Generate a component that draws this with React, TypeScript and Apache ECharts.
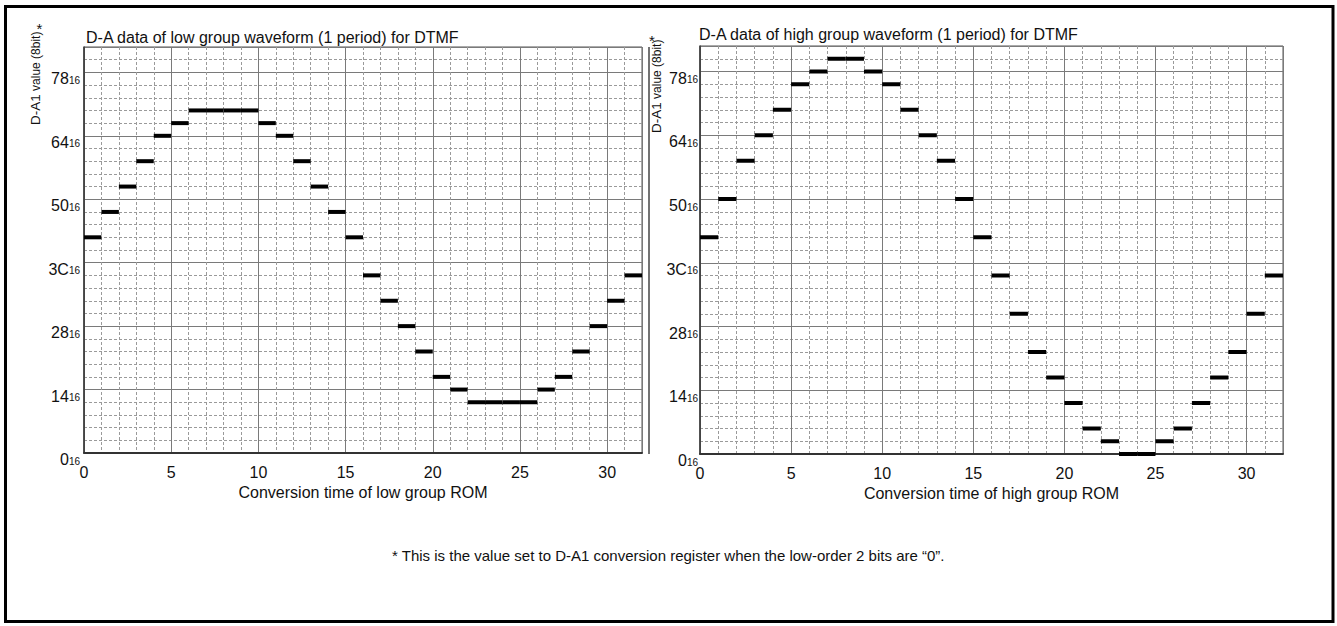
import React, { useEffect, useRef } from "react";
import * as echarts from "echarts";

// ---- data (in hex) ----
const lowGroupValues = [
  0x44, 0x4c, 0x54, 0x5c, 0x64, 0x68, 0x6c, 0x6c, 0x6c, 0x6c, 0x68, 0x64, 0x5c, 0x54, 0x4c, 0x44,
  0x38, 0x30, 0x28, 0x20, 0x18, 0x14, 0x10, 0x10, 0x10, 0x10, 0x14, 0x18, 0x20, 0x28, 0x30, 0x38,
];
const highGroupValues = [
  0x44, 0x50, 0x5c, 0x64, 0x6c, 0x74, 0x78, 0x7c, 0x7c, 0x78, 0x74, 0x6c, 0x64, 0x5c, 0x50, 0x44,
  0x38, 0x2c, 0x20, 0x18, 0x10, 0x08, 0x04, 0x00, 0x00, 0x04, 0x08, 0x10, 0x18, 0x20, 0x2c, 0x38,
];
const yTickLabels = ["0", "14", "28", "3C", "50", "64", "78"];
const chartTitles = [
  "D-A data of low group waveform (1 period) for DTMF",
  "D-A data of high group waveform (1 period) for DTMF",
];
const xAxisNames = ["Conversion time of low group ROM", "Conversion time of high group ROM"];
const footnote =
  "* This is the value set to D-A1 conversion register when the low-order 2 bits are \u201c0\u201d.";

const FONT = '"Liberation Sans", Arial, Helvetica, sans-serif';
const TXT = "#111";

const grids = [
  { left: 84, top: 47, width: 558, height: 406 },
  { left: 700, top: 46, width: 583, height: 408 },
];

function minorX(g: number) {
  return {
    type: "value", gridIndex: g, min: 0, max: 32, interval: 1, position: "bottom",
    axisLine: { show: false }, axisTick: { show: false }, axisLabel: { show: false },
    splitLine: { show: true, showMinLine: false, showMaxLine: false, lineStyle: { color: "#9a9a9a", width: 1, type: [3, 2] } },
  };
}
function majorX(g: number) {
  return {
    type: "value", gridIndex: g, min: 0, max: 32, interval: 5, position: "bottom",
    axisLine: { show: true, onZero: false, lineStyle: { color: "#333", width: 2 } },
    axisTick: { show: false },
    axisLabel: { show: true, showMaxLabel: false, margin: 11, fontSize: 16, color: TXT, fontFamily: FONT },
    splitLine: { show: true, lineStyle: { color: "#7a7a7a", width: 1 } },
    name: xAxisNames[g], nameLocation: "middle", nameGap: 31,
    nameTextStyle: { fontSize: 16, color: TXT, fontFamily: FONT },
  };
}
function minorY(g: number) {
  return {
    type: "value", gridIndex: g, min: 0, max: 128, interval: 4, position: "left",
    axisLine: { show: false }, axisTick: { show: false }, axisLabel: { show: false },
    splitLine: { show: true, showMinLine: false, showMaxLine: false, lineStyle: { color: "#9a9a9a", width: 1, type: [3, 2] } },
  };
}
function majorY(g: number) {
  return {
    type: "value", gridIndex: g, min: 0, max: 128, interval: 20, position: "left",
    axisLine: { show: true, onZero: false, lineStyle: { color: "#333", width: 1.5 } },
    axisTick: { show: false },
    axisLabel: {
      show: true, showMaxLabel: false, margin: g === 0 ? 4 : 2, verticalAlign: "top",
      formatter: (v: number) => `{m|${yTickLabels[Math.round(v / 20)] ?? ""}}{s|16}`,
      rich: {
        m: { fontSize: 16, lineHeight: 13, color: TXT, fontFamily: FONT },
        s: { fontSize: 10, lineHeight: 9, verticalAlign: "bottom", color: TXT, fontFamily: FONT },
      },
    },
    splitLine: { show: true, lineStyle: { color: "#7a7a7a", width: 1 } },
  };
}

function stepSeries(values: number[], axisIndex: number) {
  return {
    type: "custom",
    xAxisIndex: axisIndex,
    yAxisIndex: axisIndex,
    data: values.map((v, i) => [i, v]),
    renderItem: (params: any, api: any) => {
      const i = api.value(0);
      const v = api.value(1);
      const p0 = api.coord([i, v]);
      const p1 = api.coord([i + 1, v]);
      return {
        type: "rect",
        shape: { x: p0[0], y: p0[1] - 2, width: p1[0] - p0[0], height: 4 },
        style: { fill: "#000" },
      };
    },
    z: 10,
  };
}

function yName(x: number, yBottom: number) {
  return {
    type: "text", x, y: yBottom, rotation: Math.PI / 2,
    style: {
      text: "{a|D-A1}{b| value (8bit)}",
      align: "left", verticalAlign: "middle", fill: TXT, fontFamily: FONT,
      rich: {
        a: { fontSize: 13.5, lineHeight: 14, verticalAlign: "bottom", fill: TXT, fontFamily: FONT },
        b: { fontSize: 12, lineHeight: 13, verticalAlign: "bottom", fill: TXT, fontFamily: FONT },
      },
    },
  };
}

export default function App() {
  const ref = useRef<HTMLDivElement>(null);
  useEffect(() => {
    if (!ref.current) return;
    const chart = echarts.init(ref.current, null, { renderer: "svg", width: 1337, height: 626 });
    const option: any = {
      animation: false,
      backgroundColor: "#fff",
      textStyle: { fontFamily: FONT },
      title: [
        { text: chartTitles[0], left: 86, top: 29, padding: 0, textStyle: { fontSize: 16, fontWeight: "normal", color: TXT, fontFamily: FONT } },
        { text: chartTitles[1], left: 699, top: 26, padding: 0, textStyle: { fontSize: 16, fontWeight: "normal", color: TXT, fontFamily: FONT } },
      ],
      grid: grids.map((g) => ({ ...g, show: true, borderColor: "#555", borderWidth: 1, backgroundColor: "transparent" })),
      xAxis: [minorX(0), majorX(0), minorX(1), majorX(1)],
      yAxis: [minorY(0), majorY(0), minorY(1), majorY(1)],
      series: [stepSeries(lowGroupValues, 1), stepSeries(highGroupValues, 3)],
      graphic: [
        { type: "rect", shape: { x: 5.5, y: 6.5, width: 1327.5, height: 615 }, style: { fill: "none", stroke: "#000", lineWidth: 3 }, z: 100 },
        { type: "line", shape: { x1: 649, y1: 47, x2: 649, y2: 454 }, style: { stroke: "#444", lineWidth: 1.5 } },
        yName(35, 125),
        yName(656, 133),
        { type: "text", x: 39.5, y: 28, style: { text: "*", fontSize: 15, align: "center", verticalAlign: "middle", fill: TXT, fontFamily: FONT } },
        { type: "text", x: 652, y: 40, style: { text: "*", fontSize: 15, align: "center", verticalAlign: "middle", fill: TXT, fontFamily: FONT } },
        { type: "text", x: 392, y: 555, style: { text: footnote, fontSize: 15, align: "left", verticalAlign: "middle", fill: TXT, fontFamily: FONT } },
      ],
    };
    chart.setOption(option);
    return () => chart.dispose();
  }, []);
  return (
    <div
      ref={ref}
      style={{ position: "absolute", left: 0, top: 0, width: 1337, height: 626, background: "#fff" }}
    />
  );
}
